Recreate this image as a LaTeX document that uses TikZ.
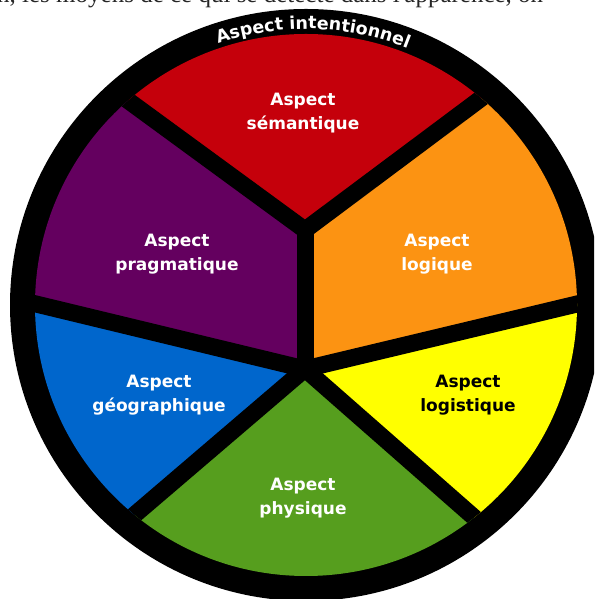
\documentclass[tikz,border=0pt]{standalone}
\usepackage{fontspec}
\setmainfont{DejaVu Sans}
\newfontfamily\bodyserif{Liberation Serif}
\usetikzlibrary{calc,decorations.text}
\definecolor{cred}{RGB}{197,0,11}
\definecolor{cpurple}{RGB}{100,0,95}
\definecolor{corange}{RGB}{252,147,18}
\definecolor{cyellow}{RGB}{255,255,0}
\definecolor{cgreen}{RGB}{86,158,30}
\definecolor{cblue}{RGB}{0,102,204}
\begin{document}
\begin{tikzpicture}[x=1pt,y=1pt,
  spoke/.style={line width=17pt, black},
  sector/.style={align=center, font=\bfseries\fontsize{17}{24}\selectfont, text=white, inner sep=0pt}]
\useasboundingbox (0,0) rectangle (594,599);
\clip (0,0) rectangle (594,599);
\coordinate (O) at (306,294);
\fill[black] (O) circle (296);
\begin{scope}
  \clip (O) circle (271);
  \coordinate (U) at (305,369);
  \coordinate (C) at (305,230);
  \coordinate (pUL) at (126,500);
  \coordinate (pUR) at (483,502);
  \coordinate (pL) at (36,295);
  \coordinate (pR) at (577,295);
  \coordinate (pLL) at (132,82);
  \coordinate (pLR) at (477,79);
  \coordinate (fUL) at ($(U)!2!(pUL)$);
  \coordinate (fUR) at ($(U)!2!(pUR)$);
  \coordinate (fL) at ($(C)!2!(pL)$);
  \coordinate (fR) at ($(C)!2!(pR)$);
  \coordinate (fLL) at ($(C)!2!(pLL)$);
  \coordinate (fLR) at ($(C)!2!(pLR)$);
  \fill[cred] (U) -- (fUL) -- (-200,900) -- (800,900) -- (fUR) -- cycle;
  \fill[cpurple] (U) -- (fUL) -- (-300,700) -- (fL) -- (C) -- cycle;
  \fill[corange] (U) -- (fUR) -- (900,700) -- (fR) -- (C) -- cycle;
  \fill[cblue] (C) -- (fL) -- (-300,-300) -- (fLL) -- cycle;
  \fill[cgreen] (C) -- (fLL) -- (0,-400) -- (600,-400) -- (fLR) -- cycle;
  \fill[cyellow] (C) -- (fLR) -- (900,-300) -- (fR) -- cycle;
  \draw[spoke] (fUL) -- (U) -- (fUR);
  \draw[spoke] (U) -- (C);
  \draw[spoke] (fL) -- (C) -- (fR);
  \draw[spoke] (fLL) -- (C) -- (fLR);
\end{scope}
\node[sector] (sem) at (303,486) {Aspect\\sémantique};
\node[sector] (prag) at (177,345) {Aspect\\pragmatique};
\node[sector] (log) at (437,345) {Aspect\\logique};
\node[sector] (geo) at (159,204) {Aspect\\géographique};
\node[sector, text=black] (logi) at (468,204) {Aspect\\logistique};
\node[sector] (phys) at (303,101) {Aspect\\physique};
\path[decorate, decoration={text along path, text align=center, text color=white,
  text={|\bfseries\fontsize{17.5}{17.5}\selectfont|Aspect intentionnel}}]
  ($(O)+(116.5:276)$) arc[start angle=116.5, end angle=60.5, radius=276];
\node[anchor=base west, inner sep=0pt, font=\bodyserif\fontsize{25}{25}\selectfont, text=black!85]
  (cut) at (-3,596) {n, les moyens de ce qui se détecte dans l'apparence, on};
\end{tikzpicture}
\end{document}
